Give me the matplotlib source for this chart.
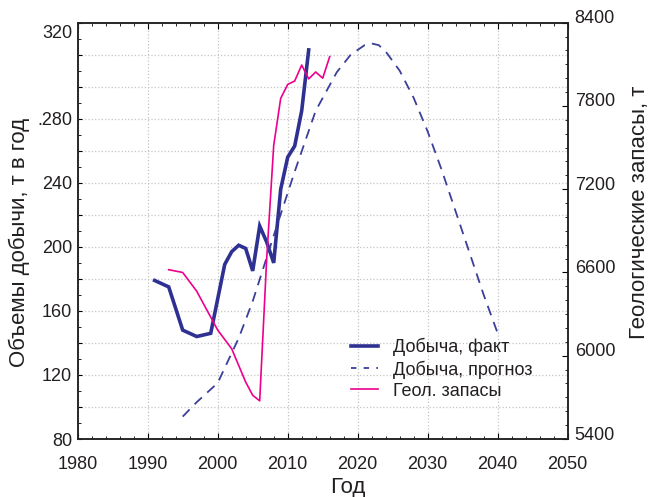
import matplotlib
matplotlib.use("Agg")
import matplotlib.pyplot as plt
from matplotlib.ticker import MultipleLocator, FuncFormatter
from matplotlib.lines import Line2D
from matplotlib.transforms import ScaledTranslation

plt.rcParams['font.family'] = ['Liberation Sans', 'DejaVu Sans']

# ---- data ----
fact_years = [1991, 1993, 1995, 1997, 1999, 2001, 2002, 2003, 2004, 2005, 2006,
              2007, 2008, 2009, 2010, 2011, 2012, 2013]
fact_vals = [179, 175, 148, 144, 146, 189, 197, 201, 199, 185, 213,
             203, 190, 236, 256, 263, 285, 323]

fc_years = [1995, 1997, 2000, 2003, 2005, 2008, 2011, 2014, 2017, 2019, 2021,
            2022, 2023, 2024, 2026, 2028, 2030, 2032, 2034, 2036, 2038, 2040]
fc_vals = [94, 103, 115, 143, 166, 207, 247, 285, 309, 320, 326,
           327, 326, 322, 310, 293, 272, 248, 222, 196, 170, 146]

geo_years = [1993, 1995, 1997, 2000, 2002, 2004, 2005, 2006, 2007, 2008, 2009,
             2010, 2011, 2012, 2013, 2014, 2015, 2016]
geo_vals = [6620, 6600, 6465, 6185, 6050, 5810, 5715, 5675, 6700, 7515, 7855,
            7955, 7980, 8095, 7995, 8045, 8000, 8155]

left_labels = {80: '80', 120: '120', 160: '160', 200: '200', 240: '240',
               280: '.280', 320: '320'}
right_ticks = [5400, 6000, 6600, 7200, 7800, 8400]
x_ticks = [1980, 1990, 2000, 2010, 2020, 2030, 2040, 2050]

navy = '#2E3192'
navy2 = '#3B3F9A'
pink = '#EC008C'
txt = '#231F20'

fig = plt.figure(figsize=(6.5, 4.97), dpi=100)
ax = fig.add_axes([77.7/650, 1-439/497, (567.7-77.7)/650, (439-22.7)/497])
ax2 = ax.twinx()

ax.set_xlim(1980, 2050)
ax.set_ylim(80, 340)
ax2.set_ylim(5400, 8400)

ax.plot(fact_years, fact_vals, color=navy, lw=2.6, solid_joinstyle='miter', zorder=3)
ax.plot(fc_years, fc_vals, color=navy2, lw=1.3, dashes=(5.5, 4), zorder=3)
ax2.plot(geo_years, geo_vals, color=pink, lw=1.2, zorder=3)

# grid
ax.set_xticks(x_ticks)
ax.xaxis.set_minor_locator(MultipleLocator(2))
ax.yaxis.set_major_locator(MultipleLocator(20))
ax.yaxis.set_minor_locator(MultipleLocator(10))
ax.yaxis.set_major_formatter(FuncFormatter(lambda v, p: left_labels.get(int(round(v)), '')))
ax.grid(True, which='major', color='#C4C4C4', linestyle=':', linewidth=0.9)
ax.set_axisbelow(True)

ax2.set_yticks(right_ticks)
ax2.yaxis.set_minor_locator(MultipleLocator(100))

for a in (ax, ax2):
    for s in a.spines.values():
        s.set_linewidth(1.1)
        s.set_color('#222222')

ax.tick_params(axis='x', which='both', direction='in', top=True, bottom=True,
               labelsize=13, labelcolor=txt, pad=12)
ax.tick_params(axis='x', which='major', length=4)
ax.tick_params(axis='x', which='minor', length=2.5)
ax.tick_params(axis='y', which='both', direction='in', labelsize=13, labelcolor=txt, pad=4)
ax.tick_params(axis='y', which='major', length=3)
ax.tick_params(axis='y', which='minor', length=2)
ax2.tick_params(axis='y', which='both', direction='in', labelsize=13, labelcolor=txt, pad=5)
ax2.tick_params(axis='y', which='major', length=4)
ax2.tick_params(axis='y', which='minor', length=2.5)

# shift the top-left label upward like in the reference
fig.canvas.draw()
for lab in ax.get_yticklabels():
    if lab.get_text() == '320':
        lab.set_transform(lab.get_transform() + ScaledTranslation(0, 23/100, fig.dpi_scale_trans))
for lab in ax2.get_yticklabels():
    lab.set_transform(lab.get_transform() + ScaledTranslation(0, 6/100, fig.dpi_scale_trans))

ax.set_xlabel('Год', fontsize=16, color=txt)
ax.xaxis.set_label_coords((348-77.7)/490, -(477-439)/416.3)
ax.set_ylabel('Объемы добычи, т в год', fontsize=16, color=txt)
ax.yaxis.set_label_coords(-(77.7-30)/490, (439-242)/416.3)
ax2.set_ylabel('Геологические запасы, т', fontsize=16, color=txt)
ax2.yaxis.set_label_coords((629-77.7)/490, (439-212)/416.3)

handles = [Line2D([], [], color=navy, lw=2.6),
           Line2D([], [], color=navy2, lw=1.3, dashes=(3, 4)),
           Line2D([], [], color=pink, lw=1.2)]
labels = ['Добыча, факт', 'Добыча, прогноз', 'Геол. запасы']
leg = ax2.legend(handles, labels, loc='upper left', bbox_to_anchor=(351/650, 1-338/497),
                 bbox_transform=fig.transFigure, frameon=False, fontsize=13,
                 handlelength=1.5, handletextpad=0.8, borderpad=0, borderaxespad=0,
                 labelspacing=0.22)
for t in leg.get_texts():
    t.set_color(txt)

fig.savefig('out.png', dpi=100)
